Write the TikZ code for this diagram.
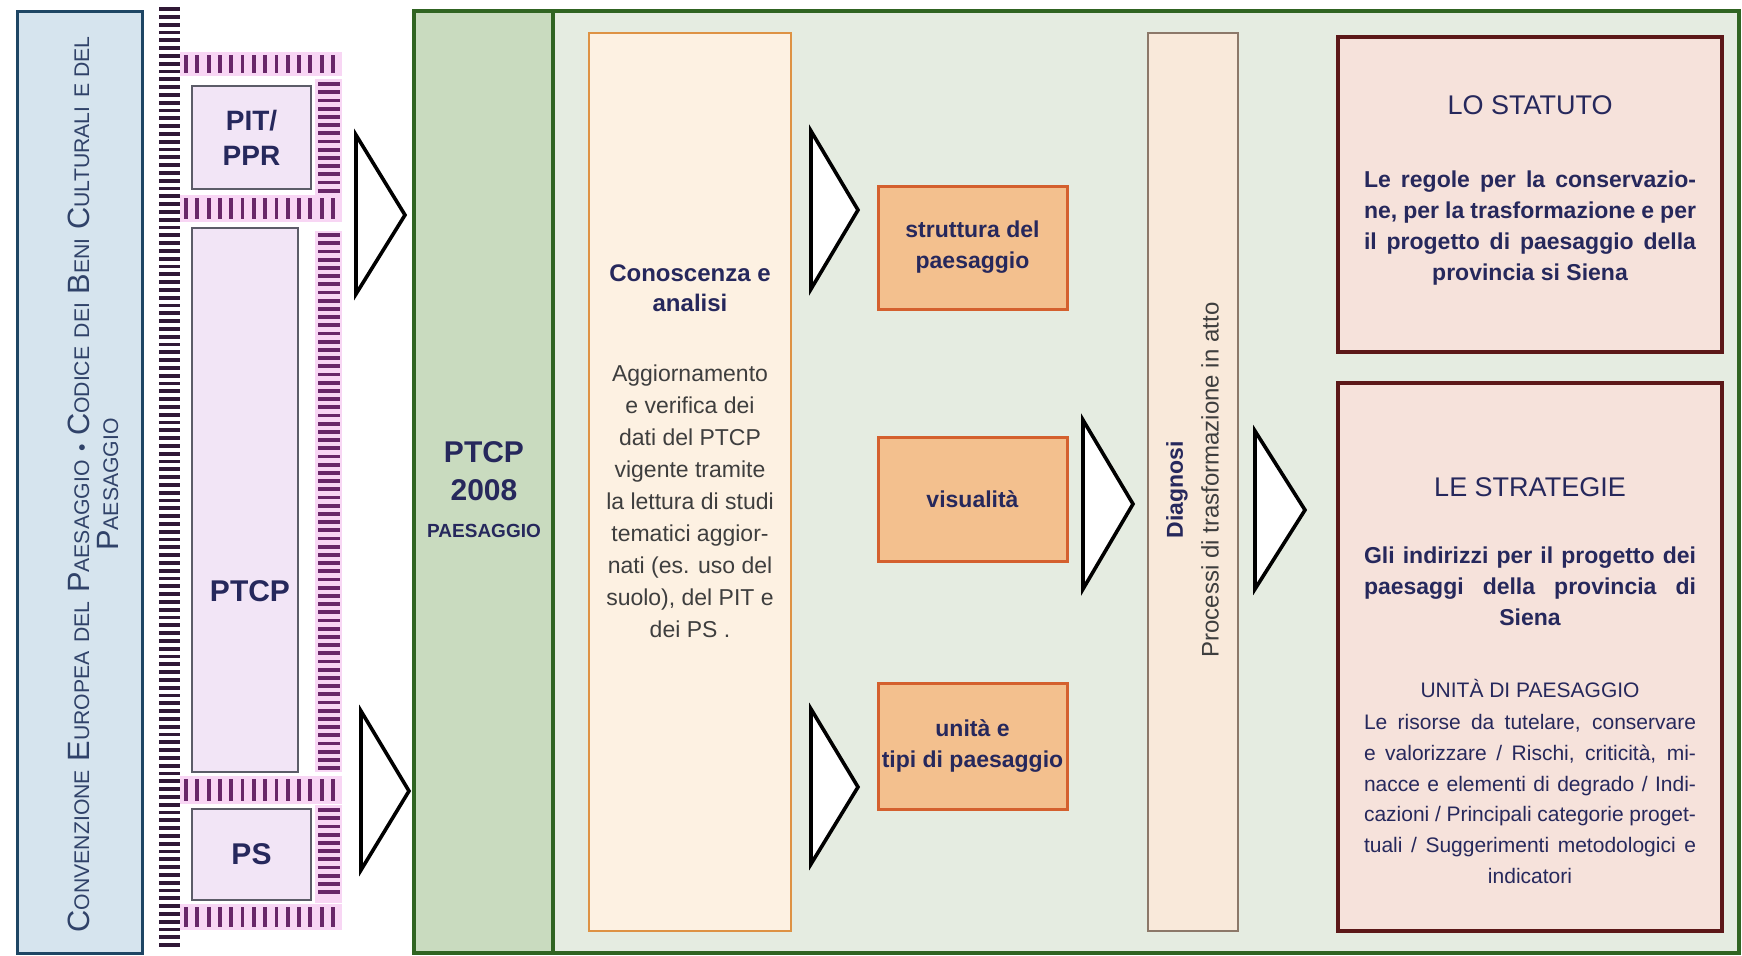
\documentclass[tikz,border=0pt]{standalone}
\usepackage{fontspec}
\setmainfont{Liberation Sans}
\usepackage{tikz}
\usetikzlibrary{
  calc,
  positioning,
}
\definecolor{navytext}{RGB}{38, 40, 92}
\definecolor{greytext}{RGB}{62, 62, 62}
\definecolor{conventiontext}{RGB}{48, 66, 105}
\definecolor{conventionfill}{RGB}{214, 228, 238}
\definecolor{conventionline}{RGB}{30, 70, 100}
\definecolor{hatchpink}{RGB}{248, 214, 244}
\definecolor{hatchpurple}{RGB}{104, 38, 104}
\definecolor{hatchdark}{RGB}{48, 24, 54}
\definecolor{planfill}{RGB}{242, 229, 246}
\definecolor{planline}{RGB}{92, 92, 104}
\definecolor{ptcpgreen}{RGB}{48, 100, 34}
\definecolor{ptcpfill}{RGB}{201, 219, 191}
\definecolor{processfill}{RGB}{229, 236, 225}
\definecolor{analysisline}{RGB}{222, 146, 68}
\definecolor{analysisfill}{RGB}{253, 241, 226}
\definecolor{themefill}{RGB}{243, 192, 142}
\definecolor{themeline}{RGB}{212, 96, 46}
\definecolor{diagnosisline}{RGB}{140, 120, 105}
\definecolor{diagnosisfill}{RGB}{249, 233, 218}
\definecolor{resultline}{RGB}{92, 24, 24}
\definecolor{resultfill}{RGB}{246, 226, 219}
\tikzstyle{panel} = [
  draw,
  rectangle,
  inner sep=0pt,
  text=navytext,
]
\tikzstyle{hatch} = [
  line width=1.9pt,
  hatchpurple,
]
\tikzstyle{flow} = [
  draw=black,
  fill=white,
  line width=1.8pt,
  line join=miter,
]
\newcommand{\capword}[2]{{\fontsize{15.4}{14.5}\selectfont #1}{\fontsize{10.6}{14.5}\selectfont #2}}
\newcommand{\lowcaps}[1]{{\fontsize{10.6}{14.5}\selectfont #1}}
\newcommand{\fullline}[1]{\makebox[166pt][s]{#1}}

\begin{document}
\begin{tikzpicture}[x=0.5pt, y=-0.5pt]

        \useasboundingbox (0,0) rectangle (1742,955);

        \node [panel, draw=conventionline, fill=conventionfill, line width=1.5pt,
               minimum width=62.5pt, minimum height=471pt] (convention) at (79.5,482) {};

        \node [rotate=90, align=center, text=conventiontext,
               font=\fontsize{15.4}{14.5}\selectfont] (conventiontitle) at (93,484.5)
              {\capword{C}{ONVENZIONE} \capword{E}{UROPEA} \lowcaps{DEL} \capword{P}{AESAGGIO}
               \lowcaps{\textbullet} \capword{C}{ODICE} \lowcaps{DEI} \capword{B}{ENI}
               \capword{C}{ULTURALI} \lowcaps{E DEL}\\ \capword{P}{AESAGGIO}};

        \foreach \y in {9,16.8,...,952} {
          \draw [hatch, hatchdark] (159,\y) -- (180,\y);
        }

        \fill [hatchpink] (180,52) rectangle (342,76);
        \fill [hatchpink] (180,195) rectangle (342,222);
        \fill [hatchpink] (180,776) rectangle (342,804);
        \fill [hatchpink] (180,904) rectangle (342,930);
        \fill [hatchpink] (315,79) rectangle (342,195);
        \fill [hatchpink] (315,231) rectangle (342,772);
        \fill [hatchpink] (315,805) rectangle (342,903);

        \foreach \x in {186,197.3,...,338} {
          \draw [hatch] (\x,55) -- (\x,73);
          \draw [hatch] (\x,198) -- (\x,219);
          \draw [hatch] (\x,779) -- (\x,801);
          \draw [hatch] (\x,907) -- (\x,927);
        }
        \foreach \y in {84,92.2,...,191} {
          \draw [hatch] (318,\y) -- (340,\y);
        }
        \foreach \y in {235,243.2,...,769} {
          \draw [hatch] (318,\y) -- (340,\y);
        }
        \foreach \y in {810,818.2,...,899} {
          \draw [hatch] (318,\y) -- (340,\y);
        }

        \node [panel, draw=planline, fill=planfill, line width=1pt, align=center,
               minimum width=59.5pt, minimum height=51.5pt,
               font=\fontsize{14}{17.5}\selectfont\bfseries] (pitppr) at (251.5,137.5) {PIT/\\PPR};

        \node [panel, draw=planline, fill=planfill, line width=1pt,
               minimum width=53pt, minimum height=272pt] (ptcp) at (245,500) {};
        \node [text=navytext, font=\fontsize{15}{18}\selectfont\bfseries] (ptcptext) at (250,591) {PTCP};

        \node [panel, draw=planline, fill=planfill, line width=1pt,
               minimum width=59.5pt, minimum height=45.5pt,
               font=\fontsize{15}{18}\selectfont\bfseries] (ps) at (251.5,854.5) {PS};

        \draw [flow] (356,135) -- (405,215) -- (356,294) -- cycle;
        \draw [flow] (361,711) -- (409,791) -- (361,870) -- cycle;

        \node [panel, draw=ptcpgreen, fill=processfill, line width=2.2pt,
               minimum width=662.5pt, minimum height=471pt] (process) at (1076.5,482) {};
        \node [panel, draw=ptcpgreen, fill=ptcpfill, line width=2.2pt,
               minimum width=69.5pt, minimum height=471pt] (ptcpcol) at (483.5,482) {};

        \node [align=center, text=navytext, font=\fontsize{15}{19}\selectfont\bfseries]
              (ptcpyear) at (484,471) {PTCP\\2008};
        \node [below=8pt of ptcpyear, inner sep=0pt, text=navytext,
               font=\fontsize{9.5}{11}\selectfont\bfseries] (ptcptheme) {PAESAGGIO};

        \node [panel, draw=analysisline, fill=analysisfill, line width=1.3pt,
               minimum width=101pt, minimum height=449pt] (analysis) at (690,482) {};
        \node [align=center, text=navytext, font=\fontsize{12}{15}\selectfont\bfseries]
              (analysistitle) at (690,288) {Conoscenza e\\analisi};
        \node [align=center, text=greytext, font=\fontsize{11.5}{16}\selectfont]
              (analysistext) at (690,501)
              {Aggiornamento\\e verifica dei\\dati del PTCP\\vigente tramite\\la lettura di studi\\
               tematici aggior-\\nati (es. uso del\\suolo), del PIT e\\dei PS .};

        \draw [flow] (811,131) -- (858,210) -- (811,289) -- cycle;
        \draw [flow] (811,709) -- (858,787) -- (811,864) -- cycle;

        \node [panel, draw=themeline, fill=themefill, line width=1.5pt, align=center,
               minimum width=94.5pt, minimum height=61.5pt,
               font=\fontsize{11.5}{15.5}\selectfont\bfseries] (structure) at (972.5,247.5)
              {struttura del\\paesaggio};
        \node [panel, draw=themeline, fill=themefill, line width=1.5pt, align=center,
               minimum width=94.5pt, minimum height=62pt,
               font=\fontsize{11.5}{15.5}\selectfont\bfseries] (visual) at (972.5,499)
              {visualità};
        \node [panel, draw=themeline, fill=themefill, line width=1.5pt, align=center,
               minimum width=94.5pt, minimum height=63pt,
               font=\fontsize{11.5}{15.5}\selectfont\bfseries] (units) at (972.5,746)
              {unità e\\tipi di paesaggio};

        \draw [flow] (1083,420) -- (1133,504) -- (1083,589) -- cycle;

        \node [panel, draw=diagnosisline, fill=diagnosisfill, line width=1pt,
               minimum width=45pt, minimum height=449pt] (diagnosis) at (1193,482) {};
        \node [rotate=90, text=navytext, font=\fontsize{11.5}{13}\selectfont\bfseries]
              (diagnosistitle) at (1177,490) {Diagnosi};
        \node [rotate=90, text=greytext, font=\fontsize{12}{14}\selectfont]
              (diagnosistext) at (1210,480) {Processi di trasformazione in atto};

        \draw [flow] (1255,431) -- (1305,510) -- (1255,589) -- cycle;

        \node [panel, draw=resultline, fill=resultfill, line width=1.6pt,
               minimum width=192pt, minimum height=157.5pt] (statute) at (1530,194.5) {};
        \node [text=navytext, font=\fontsize{13.5}{16}\selectfont] (statutetitle) at (1530,105) {LO STATUTO};
        \node [align=center, text=navytext, font=\fontsize{11.5}{15.5}\selectfont\bfseries]
              (statutetext) at (1530,228)
              {\fullline{Le regole per la conservazio-}\\\fullline{ne, per la trasformazione e per}\\
               \fullline{il progetto di paesaggio della}\\provincia si Siena};

        \node [panel, draw=resultline, fill=resultfill, line width=1.6pt,
               minimum width=192pt, minimum height=274pt] (strategy) at (1530,657) {};
        \node [text=navytext, font=\fontsize{13.5}{16}\selectfont] (strategytitle) at (1530,487) {LE STRATEGIE};
        \node [align=center, text=navytext, font=\fontsize{11.5}{15.5}\selectfont\bfseries]
              (strategytext) at (1530,586)
              {\fullline{Gli indirizzi per il progetto dei}\\\fullline{paesaggi della provincia di}\\Siena};
        \node [text=navytext, font=\fontsize{10.5}{13}\selectfont] (unitstitle) at (1530,688)
              {UNITÀ DI PAESAGGIO};
        \node [align=center, text=navytext, font=\fontsize{10.5}{15.4}\selectfont]
              (unitstext) at (1530,799)
              {\fullline{Le risorse da tutelare, conservare}\\\fullline{e valorizzare / Rischi, criticità, mi-}\\
               \fullline{nacce e elementi di degrado / Indi-}\\\fullline{cazioni / Principali categorie proget-}\\
               \fullline{tuali / Suggerimenti metodologici e}\\indicatori};
      \end{tikzpicture}
\end{document}
